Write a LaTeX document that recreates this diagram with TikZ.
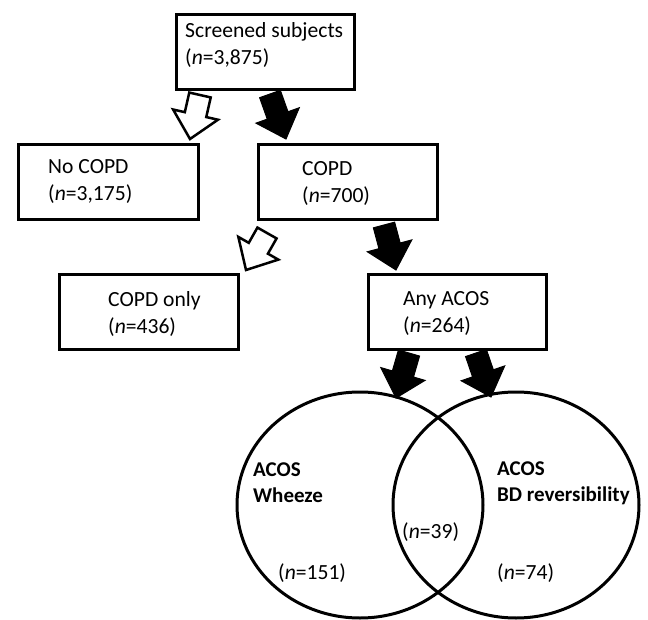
\documentclass[tikz,border=0pt]{standalone}
\usepackage{fontspec}
\setmainfont{Carlito}
\usetikzlibrary{calc,shapes.geometric}
\tikzset{
  box/.style={draw, line width=3pt, rectangle, inner sep=0pt, anchor=north west},
  lbl/.style={anchor=west, align=left, inner sep=0pt, font=\fontsize{21.6}{27}\selectfont},
  blbl/.style={anchor=west, align=left, inner sep=0pt, font=\fontsize{21}{26}\selectfont\bfseries},
  venn/.style={draw, ellipse, line width=3pt, inner sep=0pt, minimum width=246pt, minimum height=226pt},
  whitearrow/.style={draw=black, fill=white, line width=2.5pt, line join=miter},
  blackarrow/.style={draw=black, fill=black, line width=1pt, line join=miter}
}
\newcommand\fatarrow[3]{%
  \coordinate (fa-h) at ($(#3)!25pt!(#2)$);
  \path[#1] ($(#2)!11pt!90:(#3)$) -- ($(fa-h)!11pt!-90:(#2)$) -- ($(fa-h)!23pt!-90:(#2)$)
    -- (#3) -- ($(fa-h)!23pt!90:(#2)$) -- ($(fa-h)!11pt!90:(#2)$) -- ($(#2)!11pt!-90:(#3)$) -- cycle;
}
\begin{document}
\begin{tikzpicture}[x=1pt,y=-1pt]
\useasboundingbox (0,0) rectangle (648,620);

% boxes
\node[box, minimum width=178pt, minimum height=75pt] (screen) at (175,13) {};
\node[box, minimum width=180pt, minimum height=75pt] (nocopd) at (17,143) {};
\node[box, minimum width=179pt, minimum height=75pt] (copd) at (257,143) {};
\node[box, minimum width=179pt, minimum height=75pt] (only) at (58,273) {};
\node[box, minimum width=178pt, minimum height=75pt] (any) at (367,273) {};

% box texts
\node[lbl] (screent) at ($(screen.north west)+(10,32)$) {Screened subjects\\(\textit{n}=3,875)};
\node[lbl] (nocopdt) at ($(nocopd.north west)+(31,38.5)$) {No COPD\\(\textit{n}=3,175)};
\node[lbl] (copdt) at ($(copd.north west)+(45,40)$) {COPD\\(\textit{n}=700)};
\node[lbl] (onlyt) at ($(only.north west)+(50,40.5)$) {COPD only\\(\textit{n}=436)};
\node[lbl] (anyt) at ($(any.north west)+(36,40.5)$) {Any ACOS\\(\textit{n}=264)};

% venn
\node[venn] (wheeze) at (360,505) {};
\node[venn] (bd) at (516,505) {};
\node[blbl] (wheezet) at (253,483) {ACOS\\Wheeze};
\node[blbl] (bdt) at (497,483) {ACOS\\BD reversibility};
\node[lbl] (n151) at (278,573) {(\textit{n}=151)};
\node[lbl] (n39) at (402,532) {(\textit{n}=39)};
\node[lbl] (n74) at (497,573) {(\textit{n}=74)};

% arrow end points
\coordinate (a1s) at ($(screen.south west)+(25,4)$);
\coordinate (a1e) at ($(nocopd.north east)+(-10,-4)$);
\coordinate (a2s) at ($(screen.south west)+(95,3)$);
\coordinate (a2e) at ($(copd.north west)+(29,-4)$);
\coordinate (a3s) at ($(copd.south west)+(10,12)$);
\coordinate (a3e) at ($(only.north east)+(6,-3)$);
\coordinate (a4s) at ($(copd.south east)+(-55,4)$);
\coordinate (a4e) at ($(any.north west)+(29,-3)$);
\coordinate (a5s) at ($(any.south west)+(42,2)$);
\coordinate (a5e) at ($(wheeze.center)+(36,-107)$);
\coordinate (a6s) at ($(any.south west)+(109,2)$);
\coordinate (a6e) at ($(bd.center)+(-25,-108)$);

\fatarrow{whitearrow}{a1s}{a1e}
\fatarrow{blackarrow}{a2s}{a2e}
\fatarrow{whitearrow}{a3s}{a3e}
\fatarrow{blackarrow}{a4s}{a4e}
\fatarrow{blackarrow}{a5s}{a5e}
\fatarrow{blackarrow}{a6s}{a6e}
\end{tikzpicture}
\end{document}
